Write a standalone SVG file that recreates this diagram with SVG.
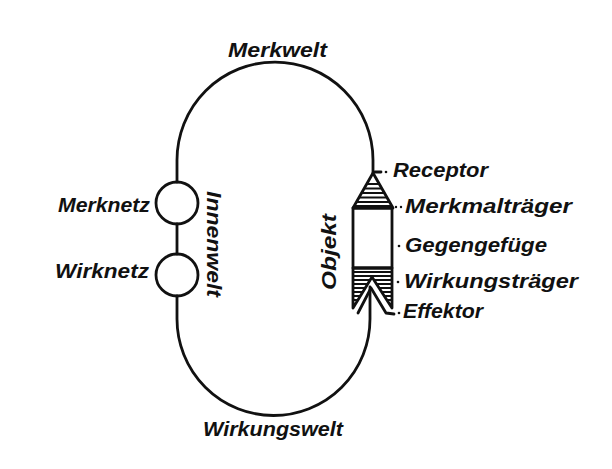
<svg xmlns="http://www.w3.org/2000/svg" width="612" height="469" viewBox="0 0 612 469">
<style>
.ln{fill:none;stroke:#111;stroke-width:2.8;stroke-linecap:round;stroke-linejoin:round}
.t{font-family:"Liberation Sans",Arial,sans-serif;font-style:italic;font-weight:bold;font-size:20px;fill:#111}
.h{stroke:#111;stroke-width:1.9}
.dot{fill:#111}
</style>
<defs>
<clipPath id="tri"><polygon points="373,173 393,207 353,207"/></clipPath>
<clipPath id="low"><polygon points="353,268 392,268 392,308 372,277 353,308"/></clipPath>
</defs>
<rect width="612" height="469" fill="#fff"/>
<g id="connectors">
<path class="ln" d="M177 182 L177 160 A98 98 0 0 1 373 160 L373 173"/>
<path class="ln" d="M177 224 L177 254"/>
<path class="ln" d="M177 296 L177 319 A96.5 96.5 0 0 0 370 319 L370 287"/>
</g>
<g id="merknetz">
<circle class="ln" cx="177" cy="203" r="21"/>
<text class="t" x="58" y="212" textLength="92" lengthAdjust="spacingAndGlyphs">Merknetz</text>
</g>
<g id="wirknetz">
<circle class="ln" cx="177" cy="275" r="21"/>
<text class="t" x="55" y="278" textLength="94" lengthAdjust="spacingAndGlyphs">Wirknetz</text>
</g>
<g id="innenwelt">
<text class="t" transform="translate(207,191) rotate(90)" textLength="106" lengthAdjust="spacingAndGlyphs">Innenwelt</text>
</g>
<g id="merkwelt">
<text class="t" x="228" y="57" textLength="99" lengthAdjust="spacingAndGlyphs">Merkwelt</text>
</g>
<g id="wirkungswelt">
<text class="t" x="203" y="436" textLength="140" lengthAdjust="spacingAndGlyphs">Wirkungswelt</text>
</g>
<g id="objekt">
<g clip-path="url(#tri)">
<line class="h" x1="350" y1="184" x2="396" y2="184"/>
<line class="h" x1="350" y1="188.5" x2="396" y2="188.5"/>
<line class="h" x1="350" y1="193" x2="396" y2="193"/>
<line class="h" x1="350" y1="197.5" x2="396" y2="197.5"/>
<line class="h" x1="350" y1="202" x2="396" y2="202"/>
<line class="h" x1="350" y1="206" x2="396" y2="206"/>
</g>
<polygon class="ln" points="373,173 393,208 353,208"/>
<rect class="ln" x="353" y="208" width="39" height="60"/>
<g clip-path="url(#low)">
<line class="h" x1="350" y1="272" x2="396" y2="272"/>
<line class="h" x1="350" y1="276" x2="396" y2="276"/>
<line class="h" x1="350" y1="280" x2="396" y2="280"/>
<line class="h" x1="350" y1="284" x2="396" y2="284"/>
<line class="h" x1="350" y1="288" x2="396" y2="288"/>
<line class="h" x1="350" y1="292" x2="396" y2="292"/>
<line class="h" x1="350" y1="296" x2="396" y2="296"/>
<line class="h" x1="350" y1="300" x2="396" y2="300"/>
<line class="h" x1="350" y1="304" x2="396" y2="304"/>
</g>
<polygon class="ln" points="353,268 392,268 392,308 372,277 353,308"/>
<polyline class="ln" points="358,313 371,288 386,313 394,314"/>
<text class="t" transform="translate(336,290) rotate(-90)" textLength="76" lengthAdjust="spacingAndGlyphs">Objekt</text>
</g>
<g id="receptor">
<line class="ln" x1="375" y1="172" x2="381" y2="172" stroke-width="1.5"/>
<circle class="dot" cx="386" cy="172" r="1.3"/>
<text class="t" x="393" y="177" textLength="95" lengthAdjust="spacingAndGlyphs">Receptor</text>
</g>
<g id="merkmaltraeger">
<circle class="dot" cx="396" cy="207" r="1.2"/>
<circle class="dot" cx="401" cy="207" r="1.2"/>
<text class="t" x="405" y="213" textLength="167" lengthAdjust="spacingAndGlyphs">Merkmalträger</text>
</g>
<g id="gegengefuege">
<circle class="dot" cx="399" cy="246" r="1.3"/>
<text class="t" x="405" y="252" textLength="142" lengthAdjust="spacingAndGlyphs">Gegengefüge</text>
</g>
<g id="wirkungstraeger">
<circle class="dot" cx="398" cy="282" r="1.3"/>
<text class="t" x="404" y="288" textLength="174" lengthAdjust="spacingAndGlyphs">Wirkungsträger</text>
</g>
<g id="effektor">
<circle class="dot" cx="399" cy="313" r="1.3"/>
<text class="t" x="403" y="318" textLength="80" lengthAdjust="spacingAndGlyphs">Effektor</text>
</g>
</svg>
